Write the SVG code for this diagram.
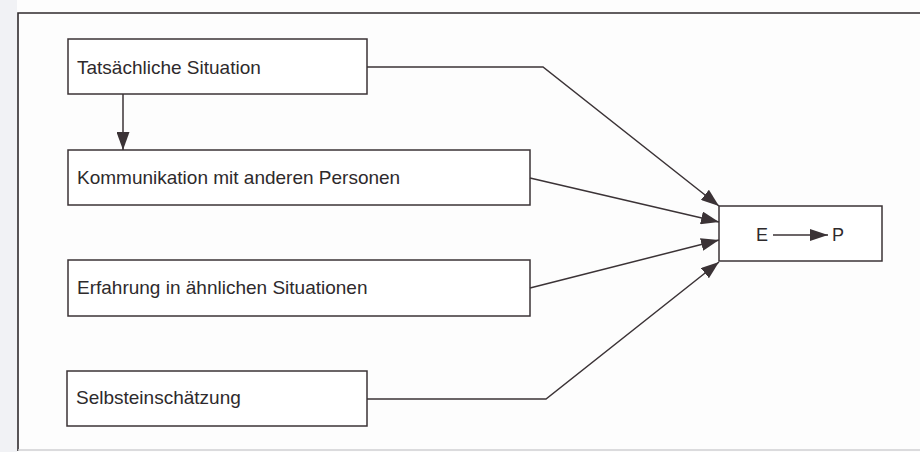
<svg xmlns="http://www.w3.org/2000/svg" width="920" height="452" viewBox="0 0 920 452">
  <defs>
    <marker id="arrow" markerWidth="18" markerHeight="13" refX="18" refY="6.5" orient="auto" markerUnits="userSpaceOnUse">
      <path d="M0,0 L18,6.5 L0,13 Z" fill="#3b3336"/>
    </marker>
    <marker id="arrowSmall" markerWidth="18" markerHeight="12" refX="18" refY="6" orient="auto" markerUnits="userSpaceOnUse">
      <path d="M0,0 L18,6 L0,12 Z" fill="#3b3336"/>
    </marker>
  </defs>
  <style>
    .box { fill: #ffffff; stroke: #3b3336; stroke-width: 1.5; }
    .label { font-family: "Liberation Sans", Arial, sans-serif; font-size: 19px; fill: #2e2a2c; }
    .ep { font-family: "Liberation Sans", Arial, sans-serif; font-size: 18px; fill: #2e2a2c; }
    .edge { fill: none; stroke: #3b3336; stroke-width: 1.5; }
  </style>

  <!-- page background and frame -->
  <rect x="0" y="0" width="920" height="452" fill="#fdfdfd"/>
  <rect x="0" y="0" width="17" height="452" fill="#f1f2f5"/>
  <path d="M18,451 L18,13 L920,13" fill="none" stroke="#2f2a2c" stroke-width="1.6"/>
  <line x1="18" y1="450" x2="920" y2="450" stroke="#cfcfd2" stroke-width="1.5"/>

  <g id="node-situation">
    <rect class="box" x="68" y="39" width="299" height="55"/>
    <text class="label" x="77" y="74">Tatsächliche Situation</text>
  </g>
  <g id="node-kommunikation">
    <rect class="box" x="68" y="150" width="462" height="55"/>
    <text class="label" x="77" y="184">Kommunikation mit anderen Personen</text>
  </g>
  <g id="node-erfahrung">
    <rect class="box" x="68" y="260" width="462" height="56"/>
    <text class="label" x="77" y="294">Erfahrung in ähnlichen Situationen</text>
  </g>
  <g id="node-selbst">
    <rect class="box" x="67" y="371" width="300" height="55"/>
    <text class="label" x="76" y="404">Selbsteinschätzung</text>
  </g>
  <g id="node-ep">
    <rect class="box" x="719" y="206" width="163" height="55"/>
    <text class="ep" x="756" y="241">E</text>
    <line class="edge" x1="773" y1="235" x2="828" y2="235" marker-end="url(#arrowSmall)"/>
    <text class="ep" x="832" y="241">P</text>
  </g>

  <g id="connectors">
    <line class="edge" x1="123" y1="94" x2="123" y2="150" marker-end="url(#arrow)"/>
    <polyline class="edge" points="367,67 543,67 719,206" marker-end="url(#arrow)"/>
    <line class="edge" x1="530" y1="178" x2="719" y2="222" marker-end="url(#arrow)"/>
    <line class="edge" x1="530" y1="288" x2="719" y2="240" marker-end="url(#arrow)"/>
    <polyline class="edge" points="367,399 546,399 719,262" marker-end="url(#arrow)"/>
  </g>
</svg>
